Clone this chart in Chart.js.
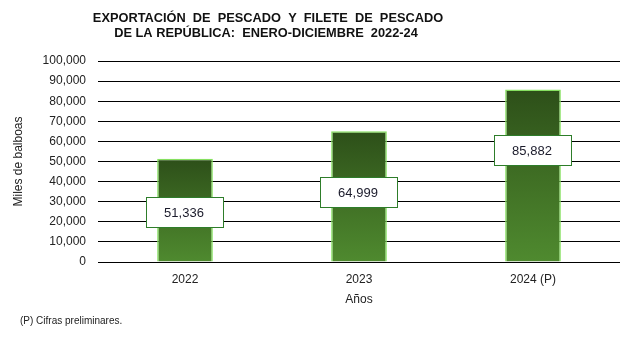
<!DOCTYPE html>
<html>
<head>
<meta charset="utf-8">
<script src="https://cdn.jsdelivr.net/npm/chart.js@4"></script>
<style>
  html, body { margin: 0; padding: 0; background: #fff; }
  canvas { display: block; }
</style>
</head>
<body>
<canvas id="expChart" width="636" height="338"></canvas>
<script>
// Exportación de pescado y filete de pescado (miles de balboas)
const years = ['2022', '2023', '2024 (P)'];
const exports = [51336, 64999, 85882];
const yTicks = [0, 10000, 20000, 30000, 40000, 50000, 60000, 70000, 80000, 90000, 100000];

const titleLines = [
  'EXPORTACIÓN  DE  PESCADO  Y  FILETE  DE  PESCADO',
  'DE LA REPÚBLICA:  ENERO-DICIEMBRE  2022-24'
];
const footnote = '(P) Cifras preliminares.';

const fontFamily = '"Liberation Sans", Arial, sans-serif';

// gradient per bar: dark on top, lighter green at the base
function barFill(ctx) {
  const chart = ctx.chart;
  if (!chart.chartArea) return '#3d6b24';
  const y = chart.scales.y;
  const top = y.getPixelForValue(ctx.raw);
  const bottom = y.getPixelForValue(0);
  const g = chart.ctx.createLinearGradient(0, top, 0, bottom);
  g.addColorStop(0, '#2d4f19');
  g.addColorStop(0.5, '#3f6e24');
  g.addColorStop(1, '#4f8a2f');
  return g;
}

// title and footnote text
const textPlugin = {
  id: 'pageText',
  afterDraw(chart) {
    const c = chart.ctx;
    c.save();
    c.fillStyle = '#111';
    c.font = 'bold 12.8px ' + fontFamily;
    c.textAlign = 'center';
    c.textBaseline = 'middle';
    c.fillText(titleLines[0], 268, 18);
    c.fillText(titleLines[1], 266, 33);
    c.font = '10px ' + fontFamily;
    c.textAlign = 'left';
    c.fillStyle = '#222';
    c.fillText(footnote, 20, 321);
    c.restore();
  }
};

// white value boxes over the bars
const boxPlugin = {
  id: 'valueBoxes',
  afterDatasetsDraw(chart, args, opts) {
    const c = chart.ctx;
    const meta = chart.getDatasetMeta(0);
    const y = chart.scales.y;
    c.save();
    meta.data.forEach((bar, i) => {
      const cx = bar.x;
      const cy = y.getPixelForValue(opts.centers[i]);
      const w = 77, h = 30;
      const bx = Math.round(cx - w / 2 - 1) + 0.5;
      const by = Math.round(cy - h / 2) + 0.5;
      c.fillStyle = '#fff';
      c.fillRect(bx, by, w, h);
      c.strokeStyle = '#2e7d2a';
      c.lineWidth = 1;
      c.strokeRect(bx, by, w, h);
      c.fillStyle = '#1b1b2b';
      c.font = '13px ' + fontFamily;
      c.textAlign = 'center';
      c.textBaseline = 'middle';
      c.fillText(exports[i].toLocaleString('en-US'), cx - 1, cy + 1);
    });
    c.restore();
  }
};

const myChart = new Chart(document.getElementById('expChart'), {
  type: 'bar',
  data: {
    labels: years,
    datasets: [{
      data: exports,
      backgroundColor: barFill,
      borderColor: '#86e060',
      borderWidth: 1.5,
      barPercentage: 0.32,
      categoryPercentage: 1
    }]
  },
  options: {
    responsive: false,
    animation: false,
    layout: { padding: { top: 61, right: 16, bottom: 0, left: 0 } },
    plugins: {
      legend: { display: false },
      tooltip: { enabled: false },
      valueBoxes: { centers: [24900, 34600, 55700] }
    },
    scales: {
      x: {
        grid: { display: false },
        border: { display: false },
        ticks: { color: '#222', font: { family: fontFamily, size: 12 }, padding: 2 },
        title: {
          display: true, text: 'Años', color: '#222',
          font: { family: fontFamily, size: 12 },
          padding: { top: 4, bottom: 31 }
        },
        afterFit(scale) { scale.height = 76; }
      },
      y: {
        min: 0,
        max: 100000,
        afterBuildTicks(scale) { scale.ticks = yTicks.map(v => ({ value: v })); },
        grid: { color: '#000', lineWidth: 1, drawTicks: false },
        border: { display: false },
        ticks: {
          color: '#222',
          font: { family: fontFamily, size: 12 },
          padding: 12,
          callback: v => v.toLocaleString('en-US')
        },
        title: {
          display: true, text: 'Miles de balboas', color: '#222',
          font: { family: fontFamily, size: 12 },
          padding: { top: 11, bottom: 4 }
        },
        afterFit(scale) { scale.width = 98; }
      }
    }
  },
  plugins: [textPlugin, boxPlugin]
});
</script>
</body>
</html>
